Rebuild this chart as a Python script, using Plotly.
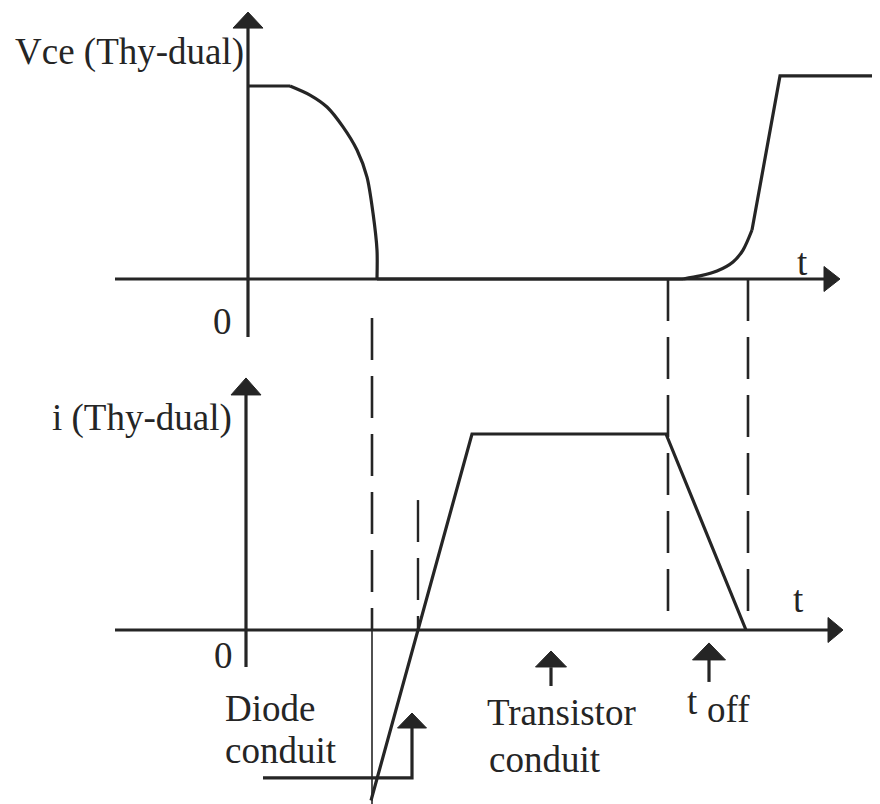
import plotly.graph_objects as go

# ---------------- data (t in arbitrary time units) ----------------
# Vce (Thy-dual): turn-on fall (curved) and turn-off rise
vce_t = [0.00, 0.43, 0.63, 0.80, 0.96, 1.10, 1.20, 1.26, 1.30, 1.30,
         4.36, 4.53, 4.70, 4.86, 4.96, 5.05, 5.33, 6.40]
vce_v = [1.00, 1.00, 0.953, 0.891, 0.788, 0.668, 0.528, 0.342, 0.150, 0.0,
         0.0, 0.016, 0.041, 0.088, 0.150, 0.254, 1.052, 1.052]
# index ranges of the curved parts (drawn smoothed)
vce_fall = (1, 10)   # slice indices
vce_rise = (10, 16)

# i (Thy-dual): diode recovery ramp, conduction plateau, turn-off fall
cur_t = [1.24, 1.71, 2.25, 4.19, 4.99]
cur_i = [-0.87, 0.0, 1.00, 1.00, 0.0]

# event instants (dashed markers)
t_diode_end = 1.25
t_zero = 1.71
t_off_start = 4.21
t_off_end = 5.01

# ---------------- layout constants ----------------
# page body has an 8 px margin, figure is 872 x 796 placed at (8, 8)
W, H = 872, 796
X_RANGE = [-2.39, 6.33]          # 100 px per unit
Y1_RANGE = [-2.7202, 1.4041]     # 193 px per unit (top panel)
Y2_RANGE = [-0.8878, 3.1735]     # 196 px per unit (bottom panel)
SX = W / (X_RANGE[1] - X_RANGE[0])
SY1 = H / (Y1_RANGE[1] - Y1_RANGE[0])
SY2 = H / (Y2_RANGE[1] - Y2_RANGE[0])

INK = "#252525"
FONT = dict(family="Liberation Serif, Times New Roman, serif", size=37, color=INK)
LW = 3.2

fig = go.Figure()


def line(xs, ys, axis="y", width=LW, dash="solid", shape="linear"):
    fig.add_trace(go.Scatter(x=xs, y=ys, yaxis=axis, mode="lines",
                             line=dict(color=INK, width=width, dash=dash, shape=shape,
                                       smoothing=0.8 if shape == "spline" else None),
                             hoverinfo="skip", showlegend=False))


def arrowhead(tx, ty, direction, length, width, axis="y"):
    sy = SY1 if axis == "y" else SY2
    if direction == "up":
        dy = length / sy
        dx = width / 2 / SX
        xs = [tx - dx, tx + dx, tx, tx - dx]
        ys = [ty - dy, ty - dy, ty, ty - dy]
    else:  # right
        dx = length / SX
        dy = width / 2 / sy
        xs = [tx - dx, tx - dx, tx, tx - dx]
        ys = [ty - dy, ty + dy, ty, ty - dy]
    fig.add_trace(go.Scatter(x=xs, y=ys, yaxis=axis, mode="lines", fill="toself",
                             fillcolor=INK, line=dict(color=INK, width=1),
                             hoverinfo="skip", showlegend=False))


# ---------------- axes (drawn as arrows) ----------------
# top panel
line([-1.32, 5.80], [0, 0], "y")
arrowhead(5.93, 0, "right", 16, 25, "y")
line([0.01, 0.01], [-0.301, 1.30], "y")
arrowhead(0.01, 1.383, "up", 16, 30, "y")
# bottom panel
line([-1.32, 5.83], [0, 0], "y2")
arrowhead(5.96, 0, "right", 15, 25, "y2")
line([-0.01, -0.01], [-0.189, 1.20], "y2")
arrowhead(-0.01, 1.286, "up", 17, 30, "y2")

# ---------------- dashed event markers ----------------
DASH = "42px,16px"
line([t_diode_end, t_diode_end], [1.592, 0.0], "y2", width=2.6, dash=DASH)
line([t_diode_end, t_diode_end], [0.0, -0.89], "y2", width=1.6)
line([t_zero, t_zero], [0.663, 0.0], "y2", width=2.4, dash=DASH)
line([t_off_start, t_off_start], [1.791, 0.051], "y2", width=2.6, dash=DASH)
line([t_off_end, t_off_end], [1.791, 0.02], "y2", width=2.6, dash=DASH)

# ---------------- waveforms ----------------
a, b = vce_fall
c, d = vce_rise
line(vce_t[:a + 1], vce_v[:a + 1], "y")
line(vce_t[a:b], vce_v[a:b], "y", shape="spline")
line(vce_t[b - 1:c + 1], vce_v[b - 1:c + 1], "y")
line(vce_t[c:d], vce_v[c:d], "y", shape="spline")
line(vce_t[d - 1:], vce_v[d - 1:], "y")
line(cur_t, cur_i, "y2")

# ---------------- pointer arrows ----------------
line([0.16, 1.65, 1.65], [-0.755, -0.755, -0.50], "y2")
arrowhead(1.65, -0.4235, "up", 15, 29, "y2")
line([3.04, 3.04], [-0.2857, -0.19], "y2")
arrowhead(3.04, -0.107, "up", 16, 31, "y2")
line([4.62, 4.62], [-0.265, -0.15], "y2")
arrowhead(4.62, -0.066, "up", 17, 33, "y2")


# ---------------- text ----------------
def text(s, x, y, axis="y", xanchor="left"):
    fig.add_annotation(text=s, x=x, y=y, xref="x", yref=axis, xanchor=xanchor,
                       yanchor="middle", showarrow=False, font=FONT)


text("Vce (Thy-dual)", -2.34, 1.176, "y")
text("0", -0.25, -0.218, "y", "center")
text("t", 5.55, 0.083, "y", "center")
text("i (Thy-dual)", -1.97, 1.082, "y2")
text("0", -0.24, -0.128, "y2", "center")
text("t", 5.51, 0.158, "y2", "center")
text("Diode", -0.24, -0.398, "y2")
text("conduit", -0.24, -0.617, "y2")
text("Transistor", 2.38, -0.423, "y2")
text("conduit", 2.40, -0.663, "y2")
text("t", 4.45, -0.367, "y2", "center")
text("off", 4.58, -0.408, "y2")

fig.update_layout(
    width=W, height=H, margin=dict(l=0, r=0, t=0, b=0),
    paper_bgcolor="white", plot_bgcolor="white", showlegend=False,
    xaxis=dict(range=X_RANGE, visible=False, fixedrange=True),
    yaxis=dict(range=Y1_RANGE, visible=False, fixedrange=True),
    yaxis2=dict(range=Y2_RANGE, visible=False, overlaying="y", fixedrange=True),
)

fig.write_html("out.html")
